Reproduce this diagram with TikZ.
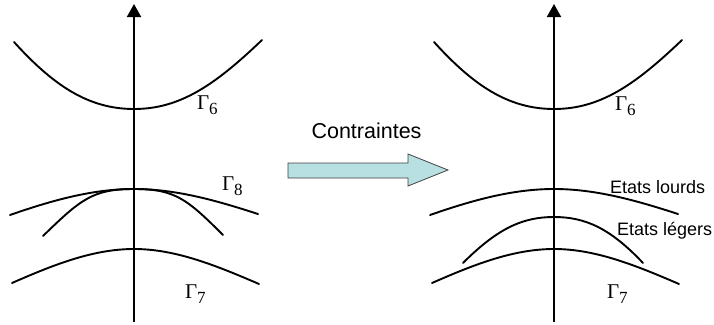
\documentclass[tikz,border=0pt]{standalone}
\usepackage{fontspec}
\setmainfont{Liberation Sans}
\newfontfamily\gserif{Liberation Serif}
\usetikzlibrary{arrows.meta}
\definecolor{arrowfill}{HTML}{B8E0E2}
\definecolor{arrowline}{HTML}{404040}
\tikzset{
  band/.style={line width=1.9pt, line cap=round},
  axisline/.style={line width=1.9pt, -{Triangle[width=14pt,length=13pt]}},
  glabel/.style={anchor=base west, inner sep=0pt, outer sep=0pt},
  stext/.style={anchor=base west, inner sep=0pt, outer sep=0pt, font=\fontsize{18}{18}\selectfont},
}
\newcommand{\gam}[1]{{\gserif\fontsize{21}{21}\selectfont Γ\raisebox{-5pt}{\fontsize{17}{17}\selectfont #1}}}
\begin{document}
\begin{tikzpicture}[x=1pt,y=-1pt]
\useasboundingbox (0,0) rectangle (714,324);
% ---------- left diagram ----------
\coordinate (axLb) at (134,322);
\coordinate (axLt) at (134,4);
\draw[axisline] (axLb) -- (axLt);
% Gamma6
\draw[band] (14,42) .. controls (53,85) and (88,109) .. (134,109)
            .. controls (180,109) and (215,85) .. (262,40);
% heavy
\draw[band] (10,215) .. controls (53,200) and (93,189) .. (134,189)
            .. controls (175,189) and (215,200) .. (258,214);
% light
\draw[band] (43,236) .. controls (81,199) and (93,189) .. (134,189)
            .. controls (175,189) and (187,199) .. (223,235);
% Gamma7
\draw[band] (12,283) .. controls (53,265) and (93,249) .. (134,249)
            .. controls (175,249) and (215,265) .. (259,284);
\node[glabel] (g6L) at (197,109) {\gam{6}};
\node[glabel] (g8L) at (222,190) {\gam{8}};
\node[glabel] (g7L) at (185,298) {\gam{7}};
% ---------- middle arrow ----------
\node[anchor=base, inner sep=0pt, font=\fontsize{21.5}{21.5}\selectfont] (ctr) at (366.5,138) {Contraintes};
\draw[fill=arrowfill, draw=arrowline, line width=0.8pt]
  (288,163) -- (408,163) -- (408,154) -- (448,170) -- (408,186) -- (408,178) -- (288,178) -- cycle;
% ---------- right diagram ----------
\coordinate (axRb) at (554,322);
\coordinate (axRt) at (554,4);
\draw[axisline] (axRb) -- (axRt);
\draw[band] (434,42) .. controls (473,85) and (508,109) .. (554,109)
            .. controls (600,109) and (635,85) .. (682,40);
\draw[band] (430,215) .. controls (473,200) and (513,189) .. (554,189)
            .. controls (595,189) and (635,200) .. (678,214);
\draw[band] (463,263) .. controls (498,228) and (523,217) .. (554,217)
            .. controls (585,217) and (610,228) .. (643,263);
\draw[band] (432,283) .. controls (473,265) and (513,249) .. (554,249)
            .. controls (595,249) and (635,265) .. (679,284);
\node[glabel] (g6R) at (615,110) {\gam{6}};
\node[glabel] (g7R) at (607,298) {\gam{7}};
\node[stext] (lourds) at (610,193) {Etats lourds};
\node[stext] (legers) at (617,235) {Etats légers};
\end{tikzpicture}
\end{document}
